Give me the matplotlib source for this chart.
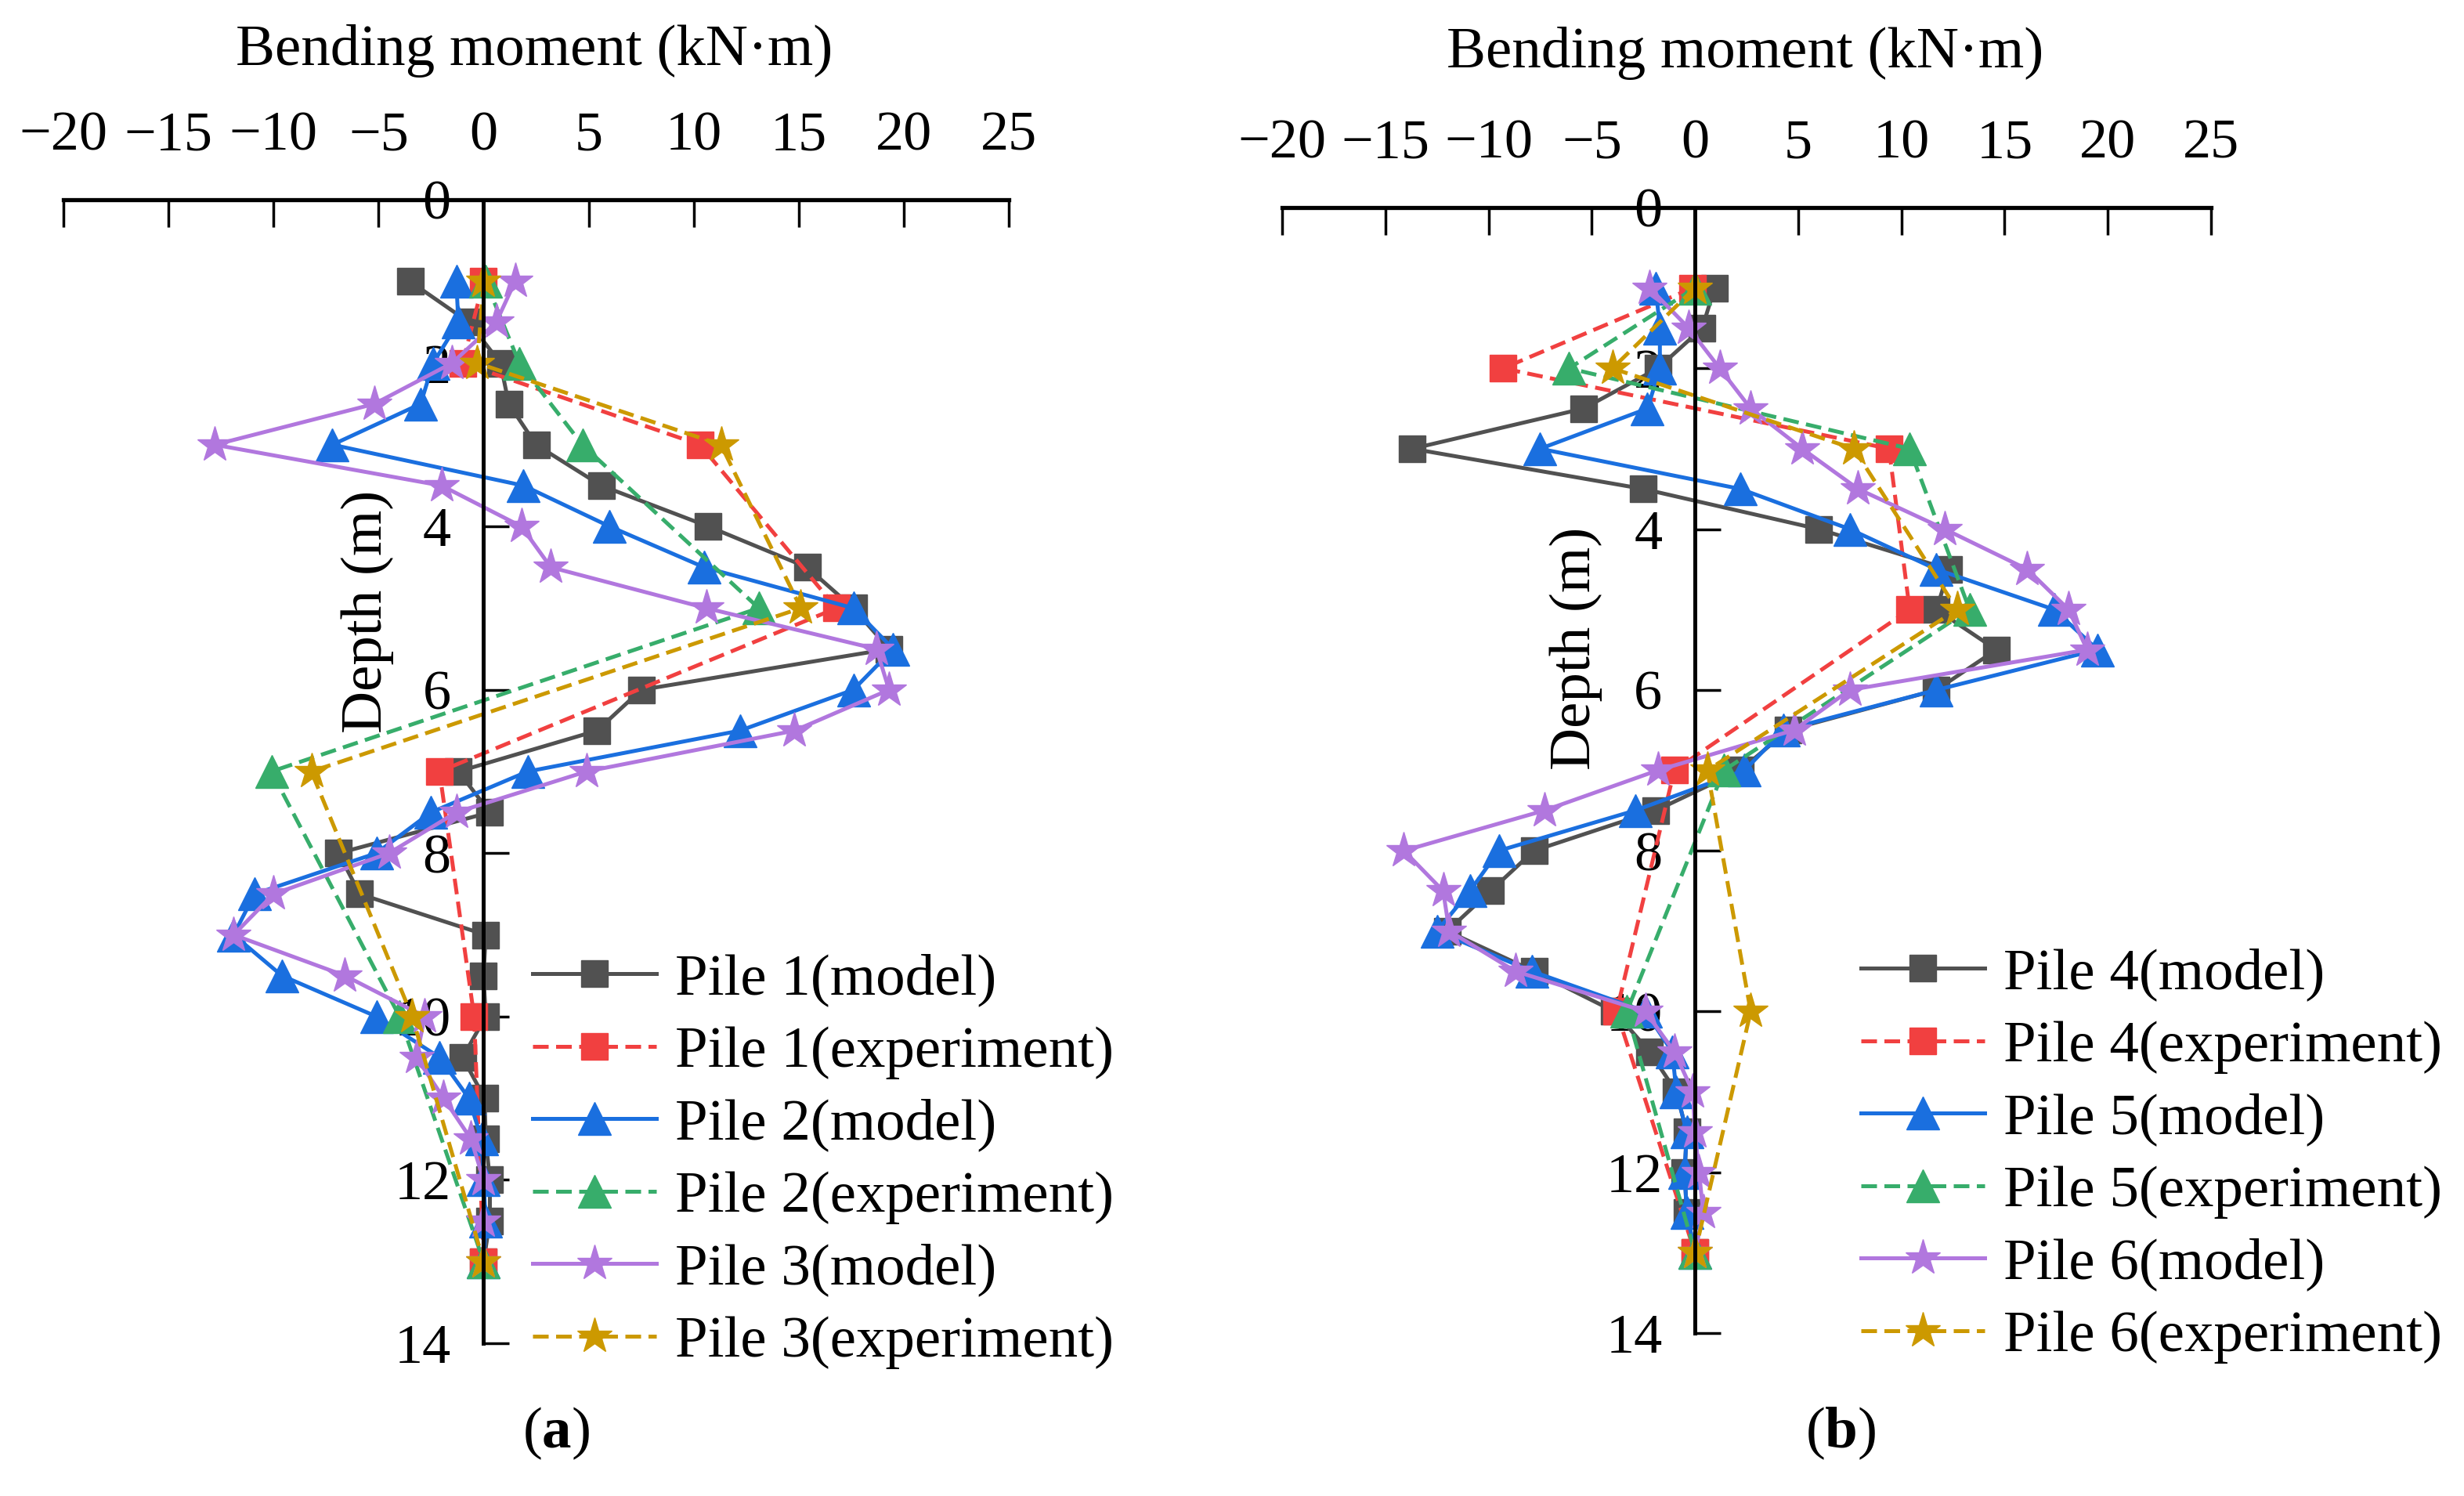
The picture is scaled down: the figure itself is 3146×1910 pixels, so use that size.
import matplotlib
matplotlib.use("Agg")
import matplotlib.pyplot as plt

plt.rcParams['font.family'] = ['Liberation Serif', 'DejaVu Serif']
plt.rcParams['mathtext.fontset'] = 'custom'
plt.rcParams['mathtext.rm'] = 'Liberation Serif'
plt.rcParams['mathtext.bf'] = 'Liberation Serif:bold'

# ---------------- data ----------------
model_depth = [1, 1.5, 2, 2.5, 3, 3.5, 4, 4.5, 5, 5.5, 6, 6.5, 7, 7.5, 8, 8.5,
               9, 9.5, 10, 10.5, 11, 11.5, 12, 12.5, 13]
exp_depth = [1, 2, 3, 5, 7, 10, 13]

# panel (a)
pile1_model = [-3.5, -0.7, 0.8, 1.2, 2.5, 5.6, 10.7, 15.4, 17.6, 19.3, 7.5, 5.4, -1.2,
               0.3, -6.9, -5.9, 0.1, 0.0, 0.1, -1.0, 0.05, 0.1, 0.3, 0.3, 0.0]
pile1_exp = [0.0, -1.0, 10.3, 16.8, -2.1, -0.45, 0.0]
pile2_model = [-1.3, -1.2, -2.4, -3.0, -7.2, 1.9, 6.0, 10.5, 17.6, 19.5, 17.6, 12.2, 2.1,
               -2.5, -5.1, -10.9, -11.9, -9.6, -5.1, -2.1, -0.7, -0.1, 0.0, 0.1, 0.0]
pile2_exp = [0.1, 1.7, 4.7, 13.1, -10.1, -4.0, 0.0]
pile3_model = [1.5, 0.6, -1.5, -5.2, -12.8, -2.0, 1.8, 3.2, 10.6, 18.7, 19.3, 14.8, 4.9,
               -1.3, -4.5, -10.0, -11.9, -6.6, -2.8, -3.2, -1.9, -0.6, 0.0, 0.0, 0.0]
pile3_exp = [0.0, -0.3, 11.3, 15.1, -8.2, -3.4, 0.0]

# panel (b)
pile4_model = [0.95, 0.35, -1.8, -5.4, -13.7, -2.5, 6.0, 12.3, 11.7, 14.6, 11.7, 4.5, 2.2,
               -1.9, -7.8, -9.9, -12.0, -7.8, -3.9, -2.2, -0.9, -0.4, -0.5, -0.4, 0.0]
pile4_exp = [-0.1, -9.3, 9.4, 10.4, -1.0, -3.8, 0.0]
pile5_model = [-1.9, -1.7, -1.7, -2.3, -7.5, 2.2, 7.5, 11.7, 17.4, 19.5, 11.7, 4.3, 2.4,
               -2.9, -9.5, -10.9, -12.5, -7.9, -2.4, -1.1, -0.9, -0.4, -0.5, -0.4, 0.0]
pile5_exp = [0.0, -6.1, 10.4, 13.3, 1.4, -3.3, 0.0]
pile6_model = [-2.2, -0.3, 1.2, 2.7, 5.2, 7.9, 12.1, 16.1, 18.1, 19.0, 7.5, 4.8, -1.8,
               -7.3, -14.1, -12.2, -11.9, -8.7, -2.4, -1.0, -0.1, 0.0, 0.2, 0.4, 0.0]
pile6_exp = [0.0, -4.0, 7.7, 12.7, 0.6, 2.7, 0.0]

x_ticks = [-20, -15, -10, -5, 0, 5, 10, 15, 20, 25]
y_ticks = [0, 2, 4, 6, 8, 10, 12, 14]

labels_a = ['Pile 1(model)', 'Pile 1(experiment)', 'Pile 2(model)',
            'Pile 2(experiment)', 'Pile 3(model)', 'Pile 3(experiment)']
labels_b = ['Pile 4(model)', 'Pile 4(experiment)', 'Pile 5(model)',
            'Pile 5(experiment)', 'Pile 6(model)', 'Pile 6(experiment)']

colors = ['#515151', '#F14040', '#1A6FDF', '#37AD6B', '#B177DE', '#CC9900']
markers = ['s', 's', '^', '^', '*', '*']
msizes = {'s': 24, '^': 30, '*': 34}
styles = ['-', '--', '-', '--', '-', '--']

W, H = 3146, 1910
DPI = 100
FS = 54
TFS = 52

fig = plt.figure(figsize=(W / DPI, H / DPI), dpi=DPI)


def make_axes(px_left, px_right, px_top, px_bottom):
    return fig.add_axes([px_left / W, 1 - px_bottom / H,
                         (px_right - px_left) / W, (px_bottom - px_top) / H])


def draw_panel(ax, series, labels, leg_anchor, ylab_pos, xlab_pos):
    for i, (d, v) in enumerate(series):
        ax.plot(v, d, linestyle=styles[i], color=colors[i], marker=markers[i],
                markersize=msizes[markers[i]], linewidth=3.6, label=labels[i],
                clip_on=False,
                dashes=(4, 1.9) if styles[i] == '--' else (None, None))
    ax.set_xlim(-20, 25)
    ax.set_ylim(14, 0)
    ax.set_xticks(x_ticks)
    ax.set_yticks(y_ticks)
    ax.spines['left'].set_position(('data', 0))
    ax.spines['right'].set_visible(False)
    ax.spines['bottom'].set_visible(False)
    ax.spines['top'].set_linewidth(3.8)
    ax.spines['left'].set_linewidth(3.6)
    ax.xaxis.tick_top()
    ax.tick_params(axis='x', direction='in', length=25, width=2.5, pad=35,
                   labelsize=TFS)
    ax.tick_params(axis='y', direction='in', length=24, width=2.5, pad=30,
                   labelsize=TFS)
    ax.patch.set_visible(False)
    ax.xaxis.set_label_position('top')
    ax.set_xlabel('Bending moment (kN·m)', fontsize=FS, va='center')
    ax.xaxis.set_label_coords(*xlab_pos)
    ax.set_ylabel('Depth (m)', fontsize=FS, va='center')
    ax.yaxis.set_label_coords(*ylab_pos)
    leg = ax.legend(loc='upper left', bbox_to_anchor=leg_anchor,
                    bbox_transform=fig.transFigure, frameon=False, fontsize=FS,
                    handlelength=2.1, handletextpad=0.33, labelspacing=0.32,
                    borderpad=0, borderaxespad=0)
    return leg


ax_a = make_axes(81, 1288, 255, 1715)
draw_panel(ax_a,
           [(model_depth, pile1_model), (exp_depth, pile1_exp),
            (model_depth, pile2_model), (exp_depth, pile2_exp),
            (model_depth, pile3_model), (exp_depth, pile3_exp)],
           labels_a, (680 / W, 1 - 1217 / H), (0.322, 0.64), (0.498, 1.13))

ax_b = make_axes(1637, 2823, 265, 1702)
draw_panel(ax_b,
           [(model_depth, pile4_model), (exp_depth, pile4_exp),
            (model_depth, pile5_model), (exp_depth, pile5_exp),
            (model_depth, pile6_model), (exp_depth, pile6_exp)],
           labels_b, (2376 / W, 1 - 1210 / H), (0.316, 0.608), (0.498, 1.137))

fig.text(710 / W, 1 - 1830 / H, r'($\mathbf{a}$)', fontsize=FS, ha='center', va='center')
fig.text(2350 / W, 1 - 1830 / H, r'($\mathbf{b}$)', fontsize=FS, ha='center', va='center')

fig.savefig('out.png', dpi=DPI)
